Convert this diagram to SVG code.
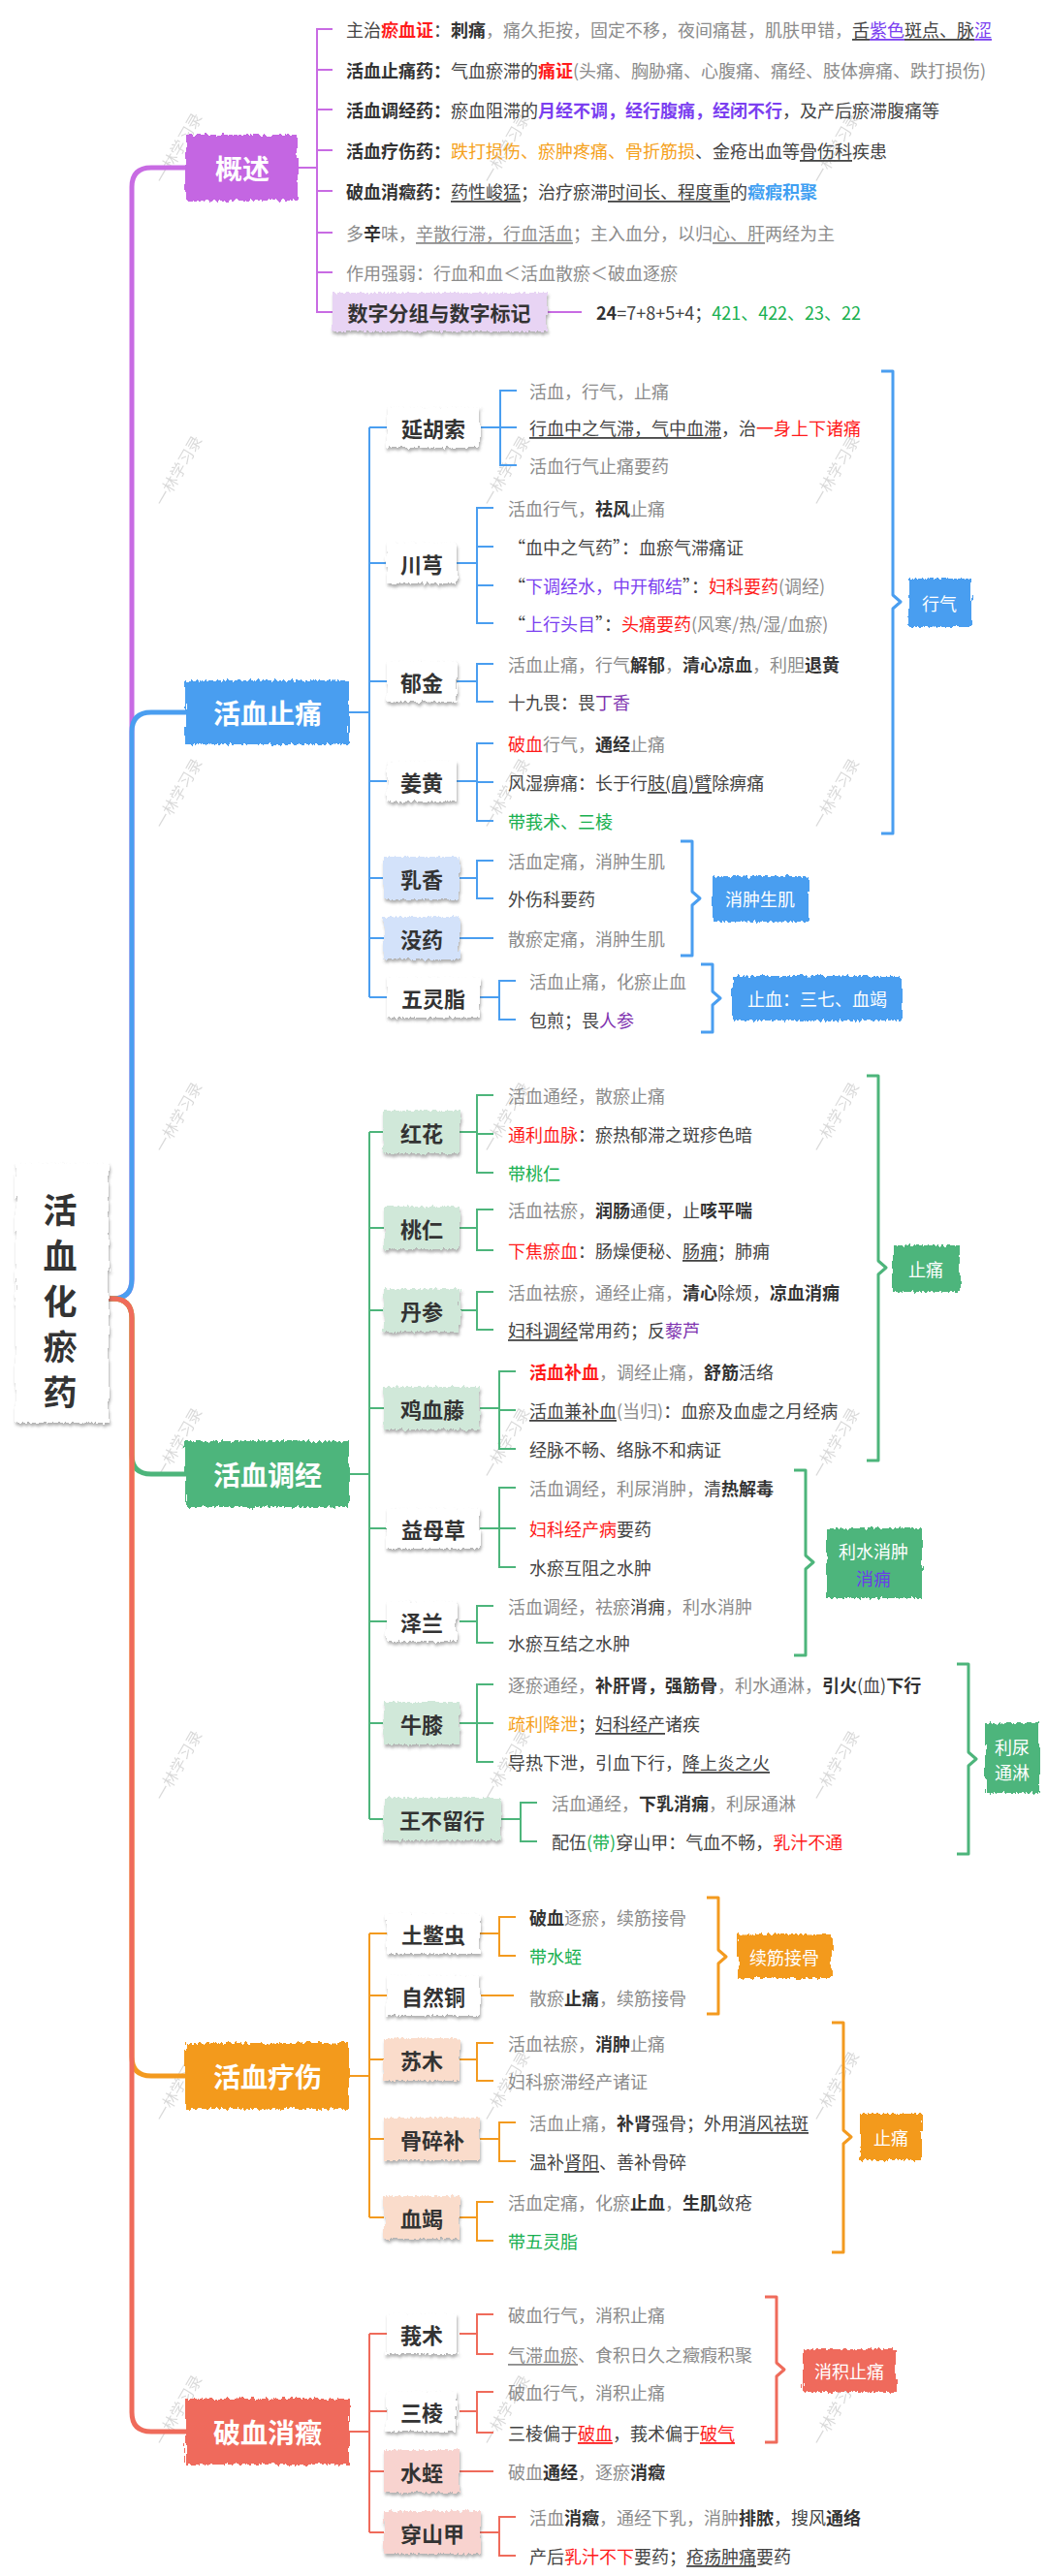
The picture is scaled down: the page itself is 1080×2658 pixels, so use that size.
<svg xmlns="http://www.w3.org/2000/svg" width="1080" height="2658" viewBox="0 0 1080 2658">
<style>
text{font-family:"Noto Sans CJK SC","Noto Sans",sans-serif;}
.t{font-size:18px;dominant-baseline:central}
.g{fill:#8c8c8c}.d{fill:#444}.k{fill:#333}.r{fill:#ff1a1a}.p{fill:#7b3ff0}.q{fill:#8034b0}.o{fill:#f5a11c}.bl{fill:#3f9ff2}.gr{fill:#18b050}.w{fill:#fff}
.bo{font-weight:bold}.u{text-decoration:underline}
.bn{font-size:28px;font-weight:bold;fill:#fff;text-anchor:middle;dominant-baseline:central}
.cn{font-size:22px;font-weight:bold;fill:#333;text-anchor:middle;dominant-baseline:central}
.lb{font-size:18px;fill:#fff;text-anchor:middle;dominant-baseline:central}
.wm{font-size:16px;fill:#000;opacity:0.15;text-anchor:middle;dominant-baseline:central}
.ln{fill:none;stroke-width:2}
.tr{fill:none;stroke-width:5;stroke-linecap:round}
.br{fill:none;stroke-width:3;stroke-linejoin:round}
.pu{stroke:#c86be3}.bu{stroke:#4a9ef0}.ge{stroke:#4db57b}.or{stroke:#f39a1f}.re{stroke:#ef6b5b}
</style>
<defs>
<filter id="rg" x="-10%" y="-20%" width="120%" height="140%">
<feTurbulence type="fractalNoise" baseFrequency="0.35 0.06" numOctaves="2" seed="4" result="n"/>
<feDisplacementMap in="SourceGraphic" in2="n" scale="7" xChannelSelector="R" yChannelSelector="G"/>
</filter>
<filter id="sh" x="-15%" y="-25%" width="130%" height="160%">
<feTurbulence type="fractalNoise" baseFrequency="0.35 0.06" numOctaves="2" seed="7" result="n"/>
<feDisplacementMap in="SourceGraphic" in2="n" scale="6" xChannelSelector="R" yChannelSelector="G" result="d"/>
<feDropShadow in="d" dx="1" dy="3" stdDeviation="1.5" flood-color="#555" flood-opacity="0.45"/>
</filter>
</defs>
<rect width="1080" height="2658" fill="#fff"/>

<g id="watermarks">
<text class="wm" transform="rotate(-60 183 152)" x="183" y="152">一林学习录</text>
<text class="wm" transform="rotate(-60 521 152)" x="521" y="152">一林学习录</text>
<text class="wm" transform="rotate(-60 861 152)" x="861" y="152">一林学习录</text>
<text class="wm" transform="rotate(-60 183 485)" x="183" y="485">一林学习录</text>
<text class="wm" transform="rotate(-60 521 485)" x="521" y="485">一林学习录</text>
<text class="wm" transform="rotate(-60 861 485)" x="861" y="485">一林学习录</text>
<text class="wm" transform="rotate(-60 183 818)" x="183" y="818">一林学习录</text>
<text class="wm" transform="rotate(-60 521 818)" x="521" y="818">一林学习录</text>
<text class="wm" transform="rotate(-60 861 818)" x="861" y="818">一林学习录</text>
<text class="wm" transform="rotate(-60 183 1152)" x="183" y="1152">一林学习录</text>
<text class="wm" transform="rotate(-60 521 1152)" x="521" y="1152">一林学习录</text>
<text class="wm" transform="rotate(-60 861 1152)" x="861" y="1152">一林学习录</text>
<text class="wm" transform="rotate(-60 183 1488)" x="183" y="1488">一林学习录</text>
<text class="wm" transform="rotate(-60 521 1488)" x="521" y="1488">一林学习录</text>
<text class="wm" transform="rotate(-60 861 1488)" x="861" y="1488">一林学习录</text>
<text class="wm" transform="rotate(-60 183 1821)" x="183" y="1821">一林学习录</text>
<text class="wm" transform="rotate(-60 521 1821)" x="521" y="1821">一林学习录</text>
<text class="wm" transform="rotate(-60 861 1821)" x="861" y="1821">一林学习录</text>
<text class="wm" transform="rotate(-60 183 2152)" x="183" y="2152">一林学习录</text>
<text class="wm" transform="rotate(-60 521 2152)" x="521" y="2152">一林学习录</text>
<text class="wm" transform="rotate(-60 861 2152)" x="861" y="2152">一林学习录</text>
<text class="wm" transform="rotate(-60 183 2486)" x="183" y="2486">一林学习录</text>
<text class="wm" transform="rotate(-60 521 2486)" x="521" y="2486">一林学习录</text>
<text class="wm" transform="rotate(-60 861 2486)" x="861" y="2486">一林学习录</text>
</g>

<g id="connectors">
<path class="tr pu" d="M112,1340 H116 Q136,1340 136,1320 V193 Q136,173 156,173 H194"/>
<path class="tr bu" d="M112,1340 H116 Q136,1340 136,1320 V755 Q136,735 156,735 H193"/>
<path class="tr ge" d="M112,1340 H116 Q136,1340 136,1360 V1501 Q136,1521 156,1521 H193"/>
<path class="tr or" d="M112,1340 H116 Q136,1340 136,1360 V2122 Q136,2142 156,2142 H193"/>
<path class="tr re" d="M112,1340 H116 Q136,1340 136,1360 V2489 Q136,2509 156,2509 H193"/>
<path class="ln pu" d="M307,173 H327 M343,30 H327 V322 H343 M327,72 H343 M327,113 H343 M327,155 H343 M327,197 H343 M327,240 H343 M327,281 H343 M564,322 H600"/>
<path class="ln bu" d="M360,735 H381 M381,441 V1029 M381,441 H399 M381,581 H399 M381,703 H399 M381,806 H399 M381,906 H396 M381,968 H396 M381,1029 H399"/>
<path class="ln bu" d="M495,441 H516 M533,403 H516 V480 H533 M516,441 H533"/>
<path class="ln bu" d="M471,581 H492 M509,524 H492 V643 H509 M492,564 H509 M492,604 H509"/>
<path class="ln bu" d="M471,703 H492 M509,685 H492 V724 H509"/>
<path class="ln bu" d="M471,806 H492 M509,767 H492 V847 H509 M492,807 H509"/>
<path class="ln bu" d="M474,906 H492 M509,888 H492 V927 H509"/>
<path class="ln bu" d="M474,968 H509"/>
<path class="ln bu" d="M495,1029 H515 M532,1012 H515 V1052 H532"/>
<path class="br bu" d="M909,383 H921 V614 L929,621 L921,628 V860 H909"/>
<path class="br bu" d="M702,868 H714 V920 L722,927 L714,934 V986 H702"/>
<path class="br bu" d="M723,995 H735 V1023 L743,1030 L735,1037 V1065 H723"/>
<path class="ln ge" d="M360,1521 H381 M381,1168 V1877 M381,1168 H396 M381,1267 H396 M381,1352 H396 M381,1453 H396 M381,1577 H399 M381,1673 H399 M381,1778 H396 M381,1877 H396"/>
<path class="ln ge" d="M474,1168 H492 M509,1130 H492 V1210 H509 M492,1170 H509"/>
<path class="ln ge" d="M474,1267 H492 M509,1248 H492 V1290 H509"/>
<path class="ln ge" d="M474,1352 H492 M509,1333 H492 V1372 H509"/>
<path class="ln ge" d="M495,1453 H515 M532,1415 H515 V1495 H532 M515,1455 H532"/>
<path class="ln ge" d="M495,1577 H515 M532,1535 H515 V1617 H532 M515,1577 H532"/>
<path class="ln ge" d="M474,1673 H492 M509,1657 H492 V1695 H509"/>
<path class="ln ge" d="M474,1778 H492 M509,1738 H492 V1818 H509 M492,1778 H509"/>
<path class="ln ge" d="M517,1877 H537 M554,1860 H537 V1900 H554"/>
<path class="br ge" d="M894,1110 H906 V1301 L914,1308 L906,1315 V1507 H894"/>
<path class="br ge" d="M819,1517 H831 V1605 L839,1612 L831,1619 V1708 H819"/>
<path class="br ge" d="M987,1717 H999 V1808 L1007,1815 L999,1822 V1913 H987"/>
<path class="ln or" d="M360,2142 H381 M381,1995 V2288 M381,1995 H399 M381,2059 H399 M381,2125 H396 M381,2207 H396 M381,2288 H396"/>
<path class="ln or" d="M495,1995 H515 M532,1978 H515 V2018 H532"/>
<path class="ln or" d="M495,2059 H530"/>
<path class="ln or" d="M474,2125 H492 M509,2108 H492 V2147 H509"/>
<path class="ln or" d="M495,2207 H515 M532,2190 H515 V2230 H532"/>
<path class="ln or" d="M474,2288 H492 M509,2272 H492 V2312 H509"/>
<path class="br or" d="M729,1958 H741 V2012 L749,2019 L741,2026 V2078 H729"/>
<path class="br or" d="M858,2087 H870 V2198 L878,2205 L870,2212 V2324 H858"/>
<path class="ln re" d="M360,2509 H381 M381,2408 V2613 M381,2408 H399 M381,2488 H399 M381,2550 H396 M381,2613 H396"/>
<path class="ln re" d="M474,2408 H492 M509,2388 H492 V2429 H509"/>
<path class="ln re" d="M474,2488 H492 M509,2468 H492 V2510 H509"/>
<path class="ln re" d="M474,2550 H509"/>
<path class="ln re" d="M495,2613 H515 M532,2597 H515 V2637 H532"/>
<path class="br re" d="M789,2370 H801 V2438 L809,2445 L801,2452 V2520 H789"/>
</g>

<g id="root">
<rect x="16" y="1200" width="96" height="268" fill="#fff" filter="url(#sh)"/>
<text x="62" y="1246" font-size="35" font-weight="bold" fill="#333" text-anchor="middle" dominant-baseline="central">活</text>
<text x="62" y="1293" font-size="35" font-weight="bold" fill="#333" text-anchor="middle" dominant-baseline="central">血</text>
<text x="62" y="1340" font-size="35" font-weight="bold" fill="#333" text-anchor="middle" dominant-baseline="central">化</text>
<text x="62" y="1387" font-size="35" font-weight="bold" fill="#333" text-anchor="middle" dominant-baseline="central">瘀</text>
<text x="62" y="1434" font-size="35" font-weight="bold" fill="#333" text-anchor="middle" dominant-baseline="central">药</text>
</g>

<g id="n-gaishu">
<rect x="192" y="139" width="115" height="68" fill="#c466e2" filter="url(#rg)"/>
<text class="bn" x="250" y="173">概述</text>
<text class="t" x="357" y="30"><tspan class="d">主治</tspan><tspan class="r bo">瘀血证</tspan><tspan class="d">：</tspan><tspan class="k bo">刺痛</tspan><tspan class="g">，痛久拒按，固定不移，夜间痛甚，肌肤甲错，</tspan><tspan class="d u">舌</tspan><tspan class="p u">紫色</tspan><tspan class="d u">斑点、脉</tspan><tspan class="p u">涩</tspan></text>
<text class="t" x="357" y="72"><tspan class="k bo">活血止痛药：</tspan><tspan class="d">气血瘀滞的</tspan><tspan class="r bo">痛证</tspan><tspan class="g">(头痛、胸胁痛、心腹痛、痛经、肢体痹痛、跌打损伤)</tspan></text>
<text class="t" x="357" y="113"><tspan class="k bo">活血调经药：</tspan><tspan class="d">瘀血阻滞的</tspan><tspan class="p bo">月经不调，经行腹痛，经闭不行</tspan><tspan class="d">，及产后瘀滞腹痛等</tspan></text>
<text class="t" x="357" y="155"><tspan class="k bo">活血疗伤药：</tspan><tspan class="o">跌打损伤、瘀肿疼痛、骨折筋损</tspan><tspan class="d">、金疮出血等</tspan><tspan class="d u">骨伤科</tspan><tspan class="d">疾患</tspan></text>
<text class="t" x="357" y="197"><tspan class="k bo">破血消癥药：</tspan><tspan class="d u">药性峻猛</tspan><tspan class="d">；治疗瘀滞</tspan><tspan class="d u">时间长、程度重</tspan><tspan class="d">的</tspan><tspan class="bl bo">癥瘕积聚</tspan></text>
<text class="t" x="357" y="240"><tspan class="g">多</tspan><tspan class="k bo">辛</tspan><tspan class="g">味，</tspan><tspan class="g u">辛散行滞，行血活血</tspan><tspan class="g">；主入血分，以归</tspan><tspan class="g u">心、肝</tspan><tspan class="g">两经为主</tspan></text>
<text class="t g" x="357" y="281">作用强弱：行血和血＜活血散瘀＜破血逐瘀</text>
</g>
<g id="n-shuzi">
<rect x="343" y="302" width="221" height="40" fill="#e8d4f4" filter="url(#sh)"/>
<text x="453" y="322" font-size="21" font-weight="bold" fill="#333" text-anchor="middle" dominant-baseline="central">数字分组与数字标记</text>
<text class="t" x="615" y="322"><tspan class="k bo">24</tspan><tspan class="d">=7+8+5+4；</tspan><tspan class="gr">421、422、23、22</tspan></text>
</g>

<g id="n-zhitong">
<rect x="191" y="702" width="169" height="66" fill="#4a9ef0" filter="url(#rg)"/>
<text class="bn" x="276" y="735">活血止痛</text>
</g>
<g id="n-yanhusuo">
<rect x="399" y="420" width="96" height="42" fill="#fff" filter="url(#sh)"/>
<text class="cn" x="447" y="441">延胡索</text>
<text class="t g" x="546" y="403">活血，行气，止痛</text>
<text class="t" x="546" y="441"><tspan class="d u">行血中之气滞，气中血滞</tspan><tspan class="d">，治</tspan><tspan class="r">一身上下诸痛</tspan></text>
<text class="t g" x="546" y="480">活血行气止痛要药</text>
</g>
<g id="n-chuanxiong">
<rect x="399" y="560" width="72" height="42" fill="#fff" filter="url(#sh)"/>
<text class="cn" x="435" y="581">川芎</text>
<text class="t" x="524" y="524"><tspan class="g">活血行气，</tspan><tspan class="k bo">祛风</tspan><tspan class="g">止痛</tspan></text>
<text class="t d" x="524" y="564">“血中之气药”：血瘀气滞痛证</text>
<text class="t" x="524" y="604"><tspan class="d">“</tspan><tspan class="p">下调经水，中开郁结</tspan><tspan class="d">”：</tspan><tspan class="r">妇科要药</tspan><tspan class="g">(调经)</tspan></text>
<text class="t" x="524" y="643"><tspan class="d">“</tspan><tspan class="p">上行头目</tspan><tspan class="d">”：</tspan><tspan class="r">头痛要药</tspan><tspan class="g">(风寒/热/湿/血瘀)</tspan></text>
</g>
<g id="n-yujin">
<rect x="399" y="682" width="72" height="42" fill="#fff" filter="url(#sh)"/>
<text class="cn" x="435" y="703">郁金</text>
<text class="t" x="524" y="685"><tspan class="g">活血止痛，行气</tspan><tspan class="k bo">解郁</tspan><tspan class="g">，</tspan><tspan class="k bo">清心凉血</tspan><tspan class="g">，利胆</tspan><tspan class="k bo">退黄</tspan></text>
<text class="t" x="524" y="724"><tspan class="d">十九畏：畏</tspan><tspan class="q">丁香</tspan></text>
</g>
<g id="n-jianghuang">
<rect x="399" y="785" width="72" height="42" fill="#fff" filter="url(#sh)"/>
<text class="cn" x="435" y="806">姜黄</text>
<text class="t" x="524" y="767"><tspan class="r">破血</tspan><tspan class="g">行气，</tspan><tspan class="k bo">通经</tspan><tspan class="g">止痛</tspan></text>
<text class="t" x="524" y="807"><tspan class="d">风湿痹痛：长于行</tspan><tspan class="d u">肢(肩)臂</tspan><tspan class="d">除痹痛</tspan></text>
<text class="t gr" x="524" y="847">带莪术、三棱</text>
</g>
<g id="n-ruxiang">
<rect x="396" y="884" width="78" height="44" fill="#d3e2fa" filter="url(#sh)"/>
<text class="cn" x="435" y="906">乳香</text>
<text class="t g" x="524" y="888">活血定痛，消肿生肌</text>
<text class="t d" x="524" y="927">外伤科要药</text>
</g>
<g id="n-moyao">
<rect x="396" y="946" width="78" height="44" fill="#d3e2fa" filter="url(#sh)"/>
<text class="cn" x="435" y="968">没药</text>
<text class="t g" x="524" y="968">散瘀定痛，消肿生肌</text>
</g>
<g id="n-wulingzhi">
<rect x="399" y="1008" width="96" height="42" fill="#fff" filter="url(#sh)"/>
<text class="cn" x="447" y="1029">五灵脂</text>
<text class="t g" x="546" y="1012">活血止痛，化瘀止血</text>
<text class="t" x="546" y="1052"><tspan class="d">包煎；畏</tspan><tspan class="q">人参</tspan></text>
</g>
<g id="l-xingqi">
<rect x="937" y="597" width="65" height="50" fill="#4a9ef0" filter="url(#rg)"/>
<text class="lb" x="969" y="622">行气</text>
</g>
<g id="l-xiaozhong">
<rect x="735" y="904" width="99" height="47" fill="#4a9ef0" filter="url(#rg)"/>
<text class="lb" x="784" y="927">消肿生肌</text>
</g>
<g id="l-zhixue">
<rect x="756" y="1007" width="174" height="46" fill="#4a9ef0" filter="url(#rg)"/>
<text class="lb" x="843" y="1030">止血：三七、血竭</text>
</g>

<g id="n-tiaojing">
<rect x="191" y="1487" width="169" height="68" fill="#4db57b" filter="url(#rg)"/>
<text class="bn" x="276" y="1521">活血调经</text>
</g>
<g id="n-honghua">
<rect x="396" y="1146" width="78" height="44" fill="#d0e8d9" filter="url(#sh)"/>
<text class="cn" x="435" y="1168">红花</text>
<text class="t g" x="524" y="1130">活血通经，散瘀止痛</text>
<text class="t" x="524" y="1170"><tspan class="r">通利血脉</tspan><tspan class="d">：瘀热郁滞之斑疹色暗</tspan></text>
<text class="t gr" x="524" y="1210">带桃仁</text>
</g>
<g id="n-taoren">
<rect x="396" y="1245" width="78" height="44" fill="#d0e8d9" filter="url(#sh)"/>
<text class="cn" x="435" y="1267">桃仁</text>
<text class="t" x="524" y="1248"><tspan class="g">活血祛瘀，</tspan><tspan class="k bo">润肠</tspan><tspan class="d">通便，止</tspan><tspan class="k bo">咳平喘</tspan></text>
<text class="t" x="524" y="1290"><tspan class="r">下焦瘀血</tspan><tspan class="d">：肠燥便秘、</tspan><tspan class="d u">肠痈</tspan><tspan class="d">；肺痈</tspan></text>
</g>
<g id="n-danshen">
<rect x="396" y="1330" width="78" height="44" fill="#d0e8d9" filter="url(#sh)"/>
<text class="cn" x="435" y="1352">丹参</text>
<text class="t" x="524" y="1333"><tspan class="g">活血祛瘀，通经止痛，</tspan><tspan class="k bo">清心</tspan><tspan class="d">除烦，</tspan><tspan class="k bo">凉血消痈</tspan></text>
<text class="t" x="524" y="1372"><tspan class="d u">妇科调经</tspan><tspan class="d">常用药；反</tspan><tspan class="q">藜芦</tspan></text>
</g>
<g id="n-jixueteng">
<rect x="396" y="1431" width="99" height="44" fill="#d0e8d9" filter="url(#sh)"/>
<text class="cn" x="446" y="1453">鸡血藤</text>
<text class="t" x="546" y="1415"><tspan class="r bo">活血补血</tspan><tspan class="g">，调经止痛，</tspan><tspan class="k bo">舒筋</tspan><tspan class="d">活络</tspan></text>
<text class="t" x="546" y="1455"><tspan class="d u">活血兼补血</tspan><tspan class="g">(当归)</tspan><tspan class="d">：血瘀及血虚之月经病</tspan></text>
<text class="t d" x="546" y="1495">经脉不畅、络脉不和病证</text>
</g>
<g id="n-yimucao">
<rect x="399" y="1556" width="96" height="42" fill="#fff" filter="url(#sh)"/>
<text class="cn" x="447" y="1577">益母草</text>
<text class="t" x="546" y="1535"><tspan class="g">活血调经，利尿消肿，</tspan><tspan class="d">清</tspan><tspan class="k bo">热解毒</tspan></text>
<text class="t" x="546" y="1577"><tspan class="r">妇科经产病</tspan><tspan class="d">要药</tspan></text>
<text class="t d" x="546" y="1617">水瘀互阻之水肿</text>
</g>
<g id="n-zelan">
<rect x="399" y="1652" width="72" height="42" fill="#fff" filter="url(#sh)"/>
<text class="cn" x="435" y="1673">泽兰</text>
<text class="t" x="524" y="1657"><tspan class="g">活血调经，祛瘀</tspan><tspan class="d">消痈</tspan><tspan class="g">，利水消肿</tspan></text>
<text class="t d" x="524" y="1695">水瘀互结之水肿</text>
</g>
<g id="n-niuxi">
<rect x="396" y="1756" width="78" height="44" fill="#d0e8d9" filter="url(#sh)"/>
<text class="cn" x="435" y="1778">牛膝</text>
<text class="t" x="524" y="1738"><tspan class="g">逐瘀通经，</tspan><tspan class="k bo">补肝肾，强筋骨</tspan><tspan class="g">，利水通淋，</tspan><tspan class="k bo">引火</tspan><tspan class="d">(血)</tspan><tspan class="k bo">下行</tspan></text>
<text class="t" x="524" y="1778"><tspan class="o">疏利降泄</tspan><tspan class="d">；</tspan><tspan class="d u">妇科经产</tspan><tspan class="d">诸疾</tspan></text>
<text class="t" x="524" y="1818"><tspan class="d">导热下泄，引血下行，</tspan><tspan class="d u">降上炎之火</tspan></text>
</g>
<g id="n-wangbuliuxing">
<rect x="396" y="1855" width="121" height="44" fill="#d0e8d9" filter="url(#sh)"/>
<text class="cn" x="456" y="1877">王不留行</text>
<text class="t" x="569" y="1860"><tspan class="g">活血通经，</tspan><tspan class="k bo">下乳消痈</tspan><tspan class="g">，利尿通淋</tspan></text>
<text class="t" x="569" y="1900"><tspan class="d">配伍</tspan><tspan class="gr">(带)</tspan><tspan class="d">穿山甲：气血不畅，</tspan><tspan class="r">乳汁不通</tspan></text>
</g>
<g id="l-zhitong-g">
<rect x="921" y="1285" width="69" height="48" fill="#4db57b" filter="url(#rg)"/>
<text class="lb" x="955" y="1309">止痛</text>
</g>
<g id="l-lishui">
<rect x="852" y="1577" width="99" height="72" fill="#4db57b" filter="url(#rg)"/>
<text class="lb" x="901" y="1600">利水消肿</text>
<text class="lb" x="901" y="1628" style="fill:#6a3de8">消痈</text>
</g>
<g id="l-liniao">
<rect x="1016" y="1778" width="56" height="72" fill="#4db57b" filter="url(#rg)"/>
<text class="lb" x="1044" y="1802">利尿</text>
<text class="lb" x="1044" y="1828">通淋</text>
</g>

<g id="n-liaoshang">
<rect x="191" y="2108" width="169" height="68" fill="#f39a1f" filter="url(#rg)"/>
<text class="bn" x="276" y="2142">活血疗伤</text>
</g>
<g id="n-tubiechong">
<rect x="399" y="1974" width="96" height="42" fill="#fff" filter="url(#sh)"/>
<text class="cn" x="447" y="1995">土鳖虫</text>
<text class="t" x="546" y="1978"><tspan class="k bo">破血</tspan><tspan class="g">逐瘀，续筋接骨</tspan></text>
<text class="t gr" x="546" y="2018">带水蛭</text>
</g>
<g id="n-zirantong">
<rect x="399" y="2038" width="96" height="42" fill="#fff" filter="url(#sh)"/>
<text class="cn" x="447" y="2059">自然铜</text>
<text class="t" x="546" y="2061"><tspan class="g">散瘀</tspan><tspan class="k bo">止痛</tspan><tspan class="g">，续筋接骨</tspan></text>
</g>
<g id="n-sumu">
<rect x="396" y="2103" width="78" height="44" fill="#fadccb" filter="url(#sh)"/>
<text class="cn" x="435" y="2125">苏木</text>
<text class="t" x="524" y="2108"><tspan class="g">活血祛瘀，</tspan><tspan class="k bo">消肿</tspan><tspan class="g">止痛</tspan></text>
<text class="t g" x="524" y="2147">妇科瘀滞经产诸证</text>
</g>
<g id="n-gusuibu">
<rect x="396" y="2185" width="99" height="44" fill="#fadccb" filter="url(#sh)"/>
<text class="cn" x="446" y="2207">骨碎补</text>
<text class="t" x="546" y="2190"><tspan class="g">活血止痛，</tspan><tspan class="k bo">补肾</tspan><tspan class="d">强骨；外用</tspan><tspan class="d u">消风祛斑</tspan></text>
<text class="t" x="546" y="2230"><tspan class="d">温补</tspan><tspan class="d u">肾阳</tspan><tspan class="d">、善补骨碎</tspan></text>
</g>
<g id="n-xuejie">
<rect x="396" y="2266" width="78" height="44" fill="#fadccb" filter="url(#sh)"/>
<text class="cn" x="435" y="2288">血竭</text>
<text class="t" x="524" y="2272"><tspan class="g">活血定痛，化瘀</tspan><tspan class="k bo">止血</tspan><tspan class="g">，</tspan><tspan class="k bo">生肌</tspan><tspan class="d">敛疮</tspan></text>
<text class="t gr" x="524" y="2312">带五灵脂</text>
</g>
<g id="l-xujin">
<rect x="761" y="1996" width="97" height="45" fill="#f39a1f" filter="url(#rg)"/>
<text class="lb" x="809" y="2019">续筋接骨</text>
</g>
<g id="l-zhitong-o">
<rect x="887" y="2181" width="64" height="48" fill="#f39a1f" filter="url(#rg)"/>
<text class="lb" x="919" y="2205">止痛</text>
</g>

<g id="n-poxue">
<rect x="191" y="2475" width="169" height="68" fill="#ef6b5b" filter="url(#rg)"/>
<text class="bn" x="276" y="2509">破血消癥</text>
</g>
<g id="n-ezhu">
<rect x="399" y="2387" width="72" height="42" fill="#fff" filter="url(#sh)"/>
<text class="cn" x="435" y="2408">莪术</text>
<text class="t g" x="524" y="2388">破血行气，消积止痛</text>
<text class="t" x="524" y="2429"><tspan class="g u">气滞血瘀</tspan><tspan class="g">、食积日久之癥瘕积聚</tspan></text>
</g>
<g id="n-sanleng">
<rect x="399" y="2467" width="72" height="42" fill="#fff" filter="url(#sh)"/>
<text class="cn" x="435" y="2488">三棱</text>
<text class="t g" x="524" y="2468">破血行气，消积止痛</text>
<text class="t" x="524" y="2510"><tspan class="d">三棱偏于</tspan><tspan class="r u">破血</tspan><tspan class="d">，莪术偏于</tspan><tspan class="r u">破气</tspan></text>
</g>
<g id="n-shuizhi">
<rect x="396" y="2528" width="78" height="44" fill="#f8d3cf" filter="url(#sh)"/>
<text class="cn" x="435" y="2550">水蛭</text>
<text class="t" x="524" y="2550"><tspan class="g">破血</tspan><tspan class="k bo">通经</tspan><tspan class="g">，逐瘀</tspan><tspan class="k bo">消癥</tspan></text>
</g>
<g id="n-chuanshanjia">
<rect x="396" y="2591" width="99" height="44" fill="#f8d3cf" filter="url(#sh)"/>
<text class="cn" x="446" y="2613">穿山甲</text>
<text class="t" x="546" y="2597"><tspan class="g">活血</tspan><tspan class="k bo">消癥</tspan><tspan class="g">，通经下乳，消肿</tspan><tspan class="k bo">排脓</tspan><tspan class="d">，搜风</tspan><tspan class="k bo">通络</tspan></text>
<text class="t" x="546" y="2637"><tspan class="d">产后</tspan><tspan class="r">乳汁不下</tspan><tspan class="d">要药；</tspan><tspan class="d u">疮疡肿痛</tspan><tspan class="d">要药</tspan></text>
</g>
<g id="l-xiaoji">
<rect x="828" y="2424" width="96" height="44" fill="#ef6b5b" filter="url(#rg)"/>
<text class="lb" x="876" y="2446">消积止痛</text>
</g>
</svg>
